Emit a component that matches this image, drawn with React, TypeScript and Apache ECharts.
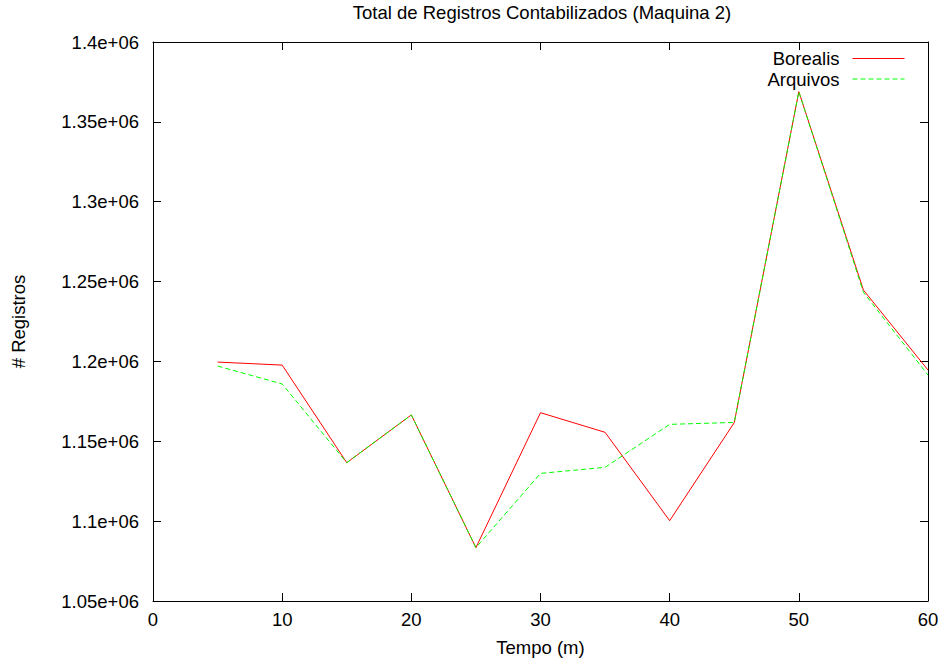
import React, { useEffect, useRef } from "react";
import * as echarts from "echarts";

const times = [5, 10, 15, 20, 25, 30, 35, 40, 45, 50, 55, 60];
const borealis = [1199600, 1197700, 1136600, 1166500, 1083400, 1167900, 1155600, 1100300, 1161700, 1368900, 1244700, 1194600];
const arquivos = [1197100, 1185900, 1136600, 1166500, 1083400, 1129900, 1133700, 1160600, 1161800, 1368900, 1243300, 1191500];
const xTicks = [0, 10, 20, 30, 40, 50, 60];
const yMin = 1050000;
const yMax = 1400000;
const yStep = 50000;

const FONT = "'Liberation Sans', Arial, Helvetica, sans-serif";
const FS = 18.5;
const RED = "#ff0000";
const GREEN = "#00ff00";

const fmtY = (v: number) => `${parseFloat((v / 1e6).toFixed(3))}e+06`;

export default function App() {
  const ref = useRef<HTMLDivElement>(null);
  useEffect(() => {
    if (!ref.current) return;
    const chart = echarts.init(ref.current, undefined, { renderer: "svg" });
    const axisLine = { show: true, onZero: false, lineStyle: { color: "#000", width: 1 } };
    const tick = { show: true, inside: true, length: 8, lineStyle: { color: "#000", width: 1 } };
    chart.setOption({
      animation: false,
      backgroundColor: "#fff",
      title: {
        text: "Total de Registros Contabilizados (Maquina 2)",
        left: 542,
        textAlign: "center",
        top: 3,
        padding: 0,
        textStyle: { fontFamily: FONT, fontSize: FS, fontWeight: "normal", color: "#000" },
      },
      legend: {
        orient: "vertical",
        right: 38,
        top: 49,
        padding: 0,
        align: "right",
        itemWidth: 52,
        itemHeight: 14,
        itemGap: 1.5,
        itemStyle: { opacity: 0 },
        textStyle: { fontFamily: FONT, fontSize: FS, lineHeight: 18, color: "#000", padding: [0, 8, 0, 0] },
        data: [
          { name: "Borealis", lineStyle: { color: RED, width: 1 } },
          { name: "Arquivos", lineStyle: { color: GREEN, width: 1, type: [5, 3] } },
        ],
      },
      grid: { left: 153, right: 15, top: 42, bottom: 63, containLabel: false },
      xAxis: [
        {
          type: "value",
          min: xTicks[0],
          max: xTicks[xTicks.length - 1],
          interval: 10,
          name: "Tempo (m)",
          nameLocation: "middle",
          nameGap: 37,
          nameTextStyle: { fontFamily: FONT, fontSize: FS, color: "#000" },
          axisLine,
          axisTick: tick,
          axisLabel: { fontFamily: FONT, fontSize: FS, color: "#000", margin: 9 },
          splitLine: { show: false },
        },
        {
          type: "value",
          position: "top",
          min: xTicks[0],
          max: xTicks[xTicks.length - 1],
          interval: 10,
          axisLine,
          axisTick: tick,
          axisLabel: { show: false },
          splitLine: { show: false },
        },
      ],
      yAxis: [
        {
          type: "value",
          min: yMin,
          max: yMax,
          interval: yStep,
          name: "# Registros",
          nameLocation: "middle",
          nameGap: 125,
          nameRotate: 90,
          nameTextStyle: { fontFamily: FONT, fontSize: FS, color: "#000" },
          axisLine,
          axisTick: tick,
          axisLabel: { fontFamily: FONT, fontSize: FS, color: "#000", margin: 14, formatter: fmtY },
          splitLine: { show: false },
        },
        {
          type: "value",
          position: "right",
          min: yMin,
          max: yMax,
          interval: yStep,
          axisLine,
          axisTick: tick,
          axisLabel: { show: false },
          splitLine: { show: false },
        },
      ],
      series: [
        {
          name: "Borealis",
          type: "line",
          data: times.map((t, i) => [t, borealis[i]]),
          symbol: "none",
          lineStyle: { color: RED, width: 1 },
          itemStyle: { color: RED },
          z: 3,
        },
        {
          name: "Arquivos",
          type: "line",
          data: times.map((t, i) => [t, arquivos[i]]),
          symbol: "none",
          lineStyle: { color: GREEN, width: 1, type: [5, 3] },
          itemStyle: { color: GREEN },
          z: 4,
        },
      ],
    });
    return () => chart.dispose();
  }, []);
  return <div ref={ref} style={{ position: "absolute", left: 0, top: 0, width: 943, height: 664 }} />;
}
